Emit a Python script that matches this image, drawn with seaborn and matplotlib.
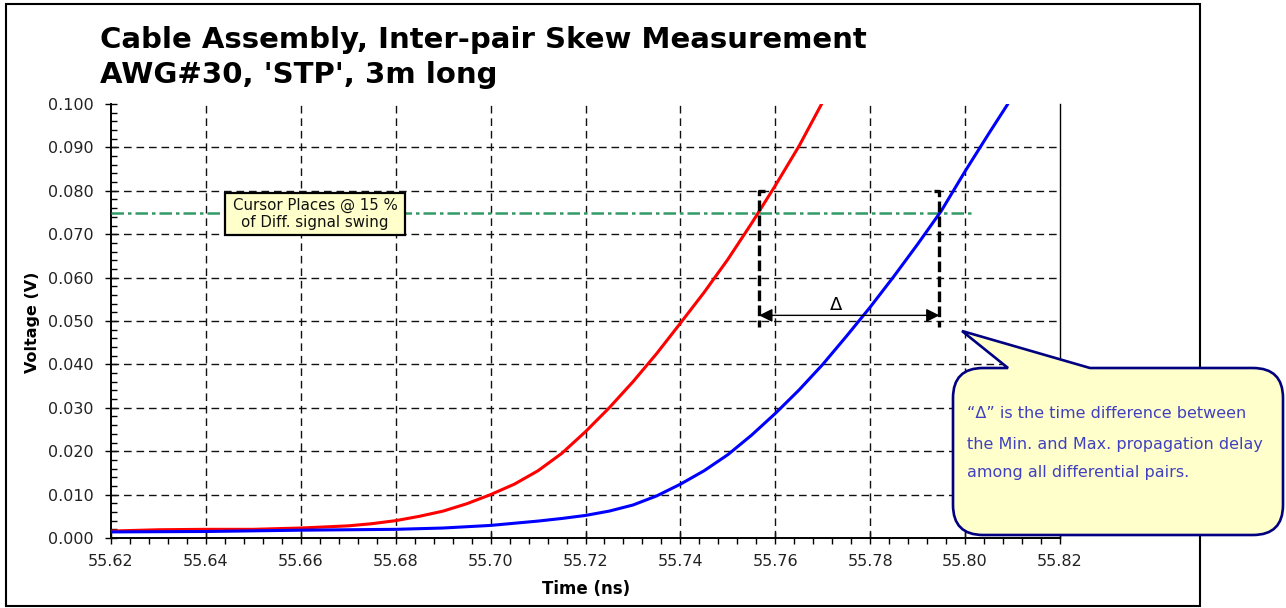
import numpy as np
import pandas as pd
import matplotlib
matplotlib.use("Agg")
import matplotlib.pyplot as plt
import seaborn as sns
from matplotlib.path import Path
from matplotlib.patches import PathPatch, Rectangle
from matplotlib.ticker import MultipleLocator

# ---------------- data ----------------
red_time = [55.620, 55.630, 55.640, 55.650, 55.660, 55.670, 55.675, 55.680, 55.685,
            55.690, 55.695, 55.700, 55.705, 55.710, 55.715, 55.720, 55.725, 55.730,
            55.735, 55.740, 55.745, 55.750, 55.755, 55.760, 55.765, 55.770]
red_volt = [0.0016, 0.0019, 0.0020, 0.0020, 0.0023, 0.0028, 0.0033, 0.0040, 0.0050,
            0.0062, 0.0079, 0.0100, 0.0124, 0.0155, 0.0195, 0.0245, 0.0300, 0.0360,
            0.0425, 0.0495, 0.0566, 0.0642, 0.0725, 0.0812, 0.0903, 0.1005]

blue_time = [55.620, 55.640, 55.660, 55.680, 55.690, 55.700, 55.705, 55.710, 55.715,
             55.720, 55.725, 55.730, 55.735, 55.740, 55.745, 55.750, 55.755, 55.760,
             55.765, 55.770, 55.775, 55.780, 55.785, 55.790, 55.795, 55.800, 55.805,
             55.809]
blue_volt = [0.0014, 0.0015, 0.0018, 0.0020, 0.0023, 0.0029, 0.0034, 0.0039, 0.0045,
             0.0052, 0.0062, 0.0076, 0.0097, 0.0124, 0.0155, 0.0192, 0.0237, 0.0287,
             0.0341, 0.0400, 0.0465, 0.0532, 0.0603, 0.0677, 0.0754, 0.0845, 0.0932,
             0.1000]

cursor_level = 0.075
cursor_span = [55.620, 55.802]
t_min_cross = 55.7566
t_max_cross = 55.7946
bracket_top = 0.080
bracket_bottom = 0.0487
arrow_level = 0.0513

x_ticks = [55.62, 55.64, 55.66, 55.68, 55.70, 55.72, 55.74, 55.76, 55.78, 55.80, 55.82]
y_ticks = [0.000, 0.010, 0.020, 0.030, 0.040, 0.050, 0.060, 0.070, 0.080, 0.090, 0.100]

title_lines = ["Cable Assembly, Inter-pair Skew Measurement", "AWG#30, 'STP', 3m long"]
cursor_text = ["Cursor Places @ 15 %", "of Diff. signal swing"]
callout_text = ["\u201c\u0394\u201d is the time difference between",
                "the Min. and Max. propagation delay",
                "among all differential pairs."]

# ---------------- style ----------------
sns.set_style("white")
plt.rcParams['font.family'] = ['DejaVu Sans']
plt.rcParams['text.color'] = 'black'
plt.rcParams['axes.labelcolor'] = 'black'

W, H = 1286, 608
fig = plt.figure(figsize=(W / 100, H / 100), dpi=100)
fig.patch.set_facecolor('white')

def fx(px):
    return px / W

def fy(py):
    return 1 - py / H

ax_l, ax_r, ax_t, ax_b = 111, 1060, 104, 538
ax = fig.add_axes([fx(ax_l), fy(ax_b), fx(ax_r) - fx(ax_l), fy(ax_t) - fy(ax_b)])
ax.set_facecolor('white')

df_red = pd.DataFrame({'Time': red_time, 'Voltage': red_volt})
df_blue = pd.DataFrame({'Time': blue_time, 'Voltage': blue_volt})
sns.lineplot(data=df_red, x='Time', y='Voltage', color='#ff0000', lw=2.2, ax=ax, zorder=5,
             estimator=None, sort=False)
sns.lineplot(data=df_blue, x='Time', y='Voltage', color='#0000ff', lw=2.2, ax=ax, zorder=6,
             estimator=None, sort=False)

ax.set_xlim(x_ticks[0], x_ticks[-1])
ax.set_ylim(y_ticks[0], y_ticks[-1])

# grid (interior only)
for xv in x_ticks[1:-1]:
    ax.axvline(xv, color='#111111', lw=1.0, ls=(0, (5.5, 3.5)), zorder=1)
for yv in y_ticks[1:-1]:
    ax.axhline(yv, color='#111111', lw=1.0, ls=(0, (5.5, 3.5)), zorder=1)

# cursor line
ax.plot(cursor_span, [cursor_level, cursor_level], color='#339966', lw=1.8,
        ls=(0, (5, 1.6, 1.4, 1.6)), zorder=4)

# brackets
cap = 0.0012
ax.plot([t_min_cross + cap, t_min_cross, t_min_cross], [bracket_top, bracket_top, bracket_bottom],
        color='black', lw=2.4, ls=(0, (3.2, 1.3)), zorder=7)
ax.plot([t_max_cross - cap, t_max_cross, t_max_cross], [bracket_top, bracket_top, bracket_bottom],
        color='black', lw=2.4, ls=(0, (3.2, 1.3)), zorder=7)
ax.annotate('', xy=(t_min_cross, arrow_level), xytext=(t_max_cross, arrow_level),
            arrowprops=dict(arrowstyle='<|-|>', color='black', lw=1.0,
                            mutation_scale=20, shrinkA=0, shrinkB=0), zorder=8)
ax.text(55.7729, 0.0537, '\u0394', fontsize=13, ha='center', va='center', color='black', zorder=8)

# axes style
ax.set_xticks(x_ticks)
ax.set_xticklabels([f"{v:.2f}" for v in x_ticks])
ax.set_yticks(y_ticks)
ax.set_yticklabels([f"{v:.3f}" for v in y_ticks])
ax.xaxis.set_minor_locator(MultipleLocator(0.004))
ax.yaxis.set_minor_locator(MultipleLocator(0.002))
ax.tick_params(which='both', bottom=True, left=True, top=False, right=False)
ax.tick_params(which='major', direction='inout', length=9, width=1.0, color='black',
               labelsize=11.5, labelcolor='#222222')
ax.tick_params(axis='y', which='major', pad=8)
ax.tick_params(axis='x', which='major', pad=7)
ax.tick_params(axis='x', which='minor', direction='out', length=4, width=1.0, color='black')
ax.tick_params(axis='y', which='minor', direction='in', length=4, width=1.0, color='black')

for s in ['left', 'bottom']:
    ax.spines[s].set_color('black')
    ax.spines[s].set_linewidth(1.4)
ax.spines['right'].set_color('black')
ax.spines['right'].set_linewidth(1.0)
ax.spines['top'].set_visible(False)

ax.set_xlabel('')
ax.set_ylabel('')
fig.text(fx(586), fy(589), 'Time (ns)', fontsize=12, fontweight='bold', ha='center', va='center')
fig.text(fx(32), fy(322), 'Voltage (V)', fontsize=11.5, fontweight='bold', ha='center',
         va='center', rotation=90)

# title
fig.text(fx(100), fy(48), title_lines[0], fontsize=21, fontweight='bold', ha='left', va='baseline')
fig.text(fx(100), fy(83), title_lines[1], fontsize=21, fontweight='bold', ha='left', va='baseline')

# outer frame
fig.patches.append(Rectangle((fx(6), fy(606)), fx(1200) - fx(6), fy(4) - fy(606),
                             transform=fig.transFigure, fill=False, edgecolor='black',
                             lw=1.5, zorder=2))

# cursor box
fig.patches.append(Rectangle((fx(225), fy(235)), fx(405) - fx(225), fy(193) - fy(235),
                             transform=fig.transFigure, facecolor='#ffffcc', edgecolor='black',
                             lw=1.6, zorder=10))
fig.text(fx(315), fy(205), cursor_text[0], fontsize=10.8, ha='center', va='center', zorder=11,
         color='#111111')
fig.text(fx(315), fy(223), cursor_text[1], fontsize=10.8, ha='center', va='center', zorder=11,
         color='#111111')

# callout with tail
x0, x1, y0, y1, r = 953, 1283, 368, 535, 30
pts = [(x0 + r, y0), (1008, y0), (962, 331), (1090, y0), (x1 - r, y0),
       (x1, y0), (x1, y0 + r),
       (x1, y1 - r),
       (x1, y1), (x1 - r, y1),
       (x0 + r, y1),
       (x0, y1), (x0, y1 - r),
       (x0, y0 + r),
       (x0, y0), (x0 + r, y0),
       (x0 + r, y0)]
codes = [Path.MOVETO, Path.LINETO, Path.LINETO, Path.LINETO, Path.LINETO,
         Path.CURVE3, Path.CURVE3,
         Path.LINETO,
         Path.CURVE3, Path.CURVE3,
         Path.LINETO,
         Path.CURVE3, Path.CURVE3,
         Path.LINETO,
         Path.CURVE3, Path.CURVE3,
         Path.CLOSEPOLY]
path = Path([(fx(px), fy(py)) for px, py in pts], codes)
fig.patches.append(PathPatch(path, transform=fig.transFigure, facecolor='#ffffcc',
                             edgecolor='#000080', lw=1.9, zorder=10))
for txt, py in zip(callout_text, [413, 444, 473]):
    fig.text(fx(967), fy(py), txt, fontsize=11.5, ha='left', va='center', color='#4040c0', zorder=11)

fig.savefig('out.png', dpi=100)
